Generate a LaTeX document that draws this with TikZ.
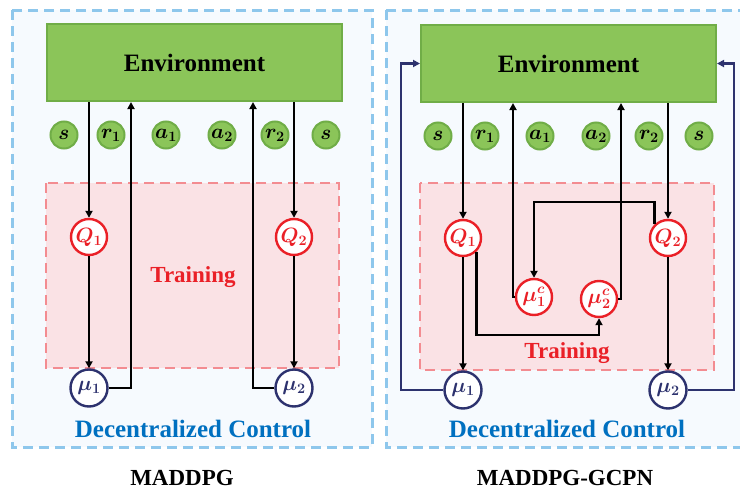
\documentclass[tikz,border=0pt]{standalone}
\usepackage{bm}
\usepackage{fontspec}
\setmainfont{Liberation Serif}
\usetikzlibrary{arrows.meta,calc}
\definecolor{envfill}{RGB}{139,197,89}
\definecolor{envdraw}{RGB}{112,173,71}
\definecolor{qred}{RGB}{234,32,39}
\definecolor{munavy}{RGB}{45,50,110}
\definecolor{trfill}{RGB}{250,226,229}
\definecolor{trdraw}{RGB}{243,140,145}
\definecolor{outfill}{RGB}{246,250,254}
\definecolor{outdraw}{RGB}{142,199,236}
\definecolor{dcblue}{RGB}{0,112,192}
\tikzset{
  outerbox/.style={draw=outdraw,fill=outfill,line width=3pt,dash pattern=on 10pt off 6pt},
  trainbox/.style={draw=trdraw,fill=trfill,line width=2.6pt,dash pattern=on 10pt off 6pt},
  envbox/.style={draw=envdraw,fill=envfill,line width=2pt,minimum width=295pt,minimum height=77pt,inner sep=0pt,font=\fontsize{25}{25}\selectfont\bfseries},
  small/.style={circle,draw=envdraw,fill=envfill,line width=2pt,minimum size=27pt,inner sep=0pt,font=\fontsize{20}{20}\selectfont},
  qnode/.style={circle,draw=qred,fill=white,line width=2.4pt,minimum size=36pt,inner sep=0pt,text=qred,font=\fontsize{20}{20}\selectfont},
  munode/.style={circle,draw=munavy,fill=white,line width=2.4pt,minimum size=37pt,inner sep=0pt,text=munavy,font=\fontsize{20}{20}\selectfont},
  arr/.style={draw=black,line width=2.4pt,-{Triangle[length=7pt,width=7pt]}},
  barr/.style={draw=munavy,line width=2.4pt,-{Triangle[length=7pt,width=7pt]}},
  trtext/.style={text=qred,font=\fontsize{23}{23}\selectfont\bfseries},
  dctext/.style={text=dcblue,font=\fontsize{25}{25}\selectfont\bfseries},
  title/.style={text=black,font=\fontsize{23}{23}\selectfont\bfseries},
}
\begin{document}
\begin{tikzpicture}[x=1pt,y=-1pt]
\useasboundingbox (0,0) rectangle (740,493);
% ---------- left panel ----------
\path[outerbox] (12,10) rectangle (372,447);
\path[trainbox] (46,183) rectangle (339,368);
\node[envbox] (env1) at (194.5,62.5) {Environment};
\node[small] (s1a) at (64,135) {$\bm{s}$};
\node[small] (r1a) at (111,135) {$\bm{r_1}$};
\node[small] (a1a) at (166,135) {$\bm{a_1}$};
\node[small] (a2a) at (222,135) {$\bm{a_2}$};
\node[small] (r2a) at (275,135) {$\bm{r_2}$};
\node[small] (s2a) at (326,135) {$\bm{s}$};
\node[qnode] (Q1L) at (89,237) {$\bm{Q_1}$};
\node[qnode] (Q2L) at (294,237) {$\bm{Q_2}$};
\node[munode] (mu1L) at (89,388) {$\bm{\mu_1}$};
\node[munode] (mu2L) at (294,388) {$\bm{\mu_2}$};
\node[trtext] (trL) at (193,277) {Training};
\node[dctext] (dcL) at (193,429) {Decentralized Control};
\node[title] (tL) at (182,478) {MADDPG};
\draw[arr] (env1.south -| Q1L) -- (Q1L.north);
\draw[arr] (env1.south -| Q2L) -- (Q2L.north);
\draw[arr] (Q1L.south) -- (mu1L.north);
\draw[arr] (Q2L.south) -- (mu2L.north);
\draw[arr] (mu1L.east) -| (env1.south -| 131,0);
\draw[arr] (mu2L.west) -| (env1.south -| 253,0);
% ---------- right panel ----------
\path[outerbox] (386,10) rectangle (746,447);
\path[trainbox] (420,183) rectangle (714,370);
\node[envbox] (env2) at (568.5,63.5) {Environment};
\node[small] (s1b) at (438,136) {$\bm{s}$};
\node[small] (r1b) at (485,136) {$\bm{r_1}$};
\node[small] (a1b) at (540,136) {$\bm{a_1}$};
\node[small] (a2b) at (596,136) {$\bm{a_2}$};
\node[small] (r2b) at (649,136) {$\bm{r_2}$};
\node[small] (s2b) at (699,136) {$\bm{s}$};
\node[qnode] (Q1R) at (463,238) {$\bm{Q_1}$};
\node[qnode] (Q2R) at (668,238) {$\bm{Q_2}$};
\node[qnode] (mu1c) at (534,297) {$\bm{\mu_1^c}$};
\node[qnode] (mu2c) at (599,299) {$\bm{\mu_2^c}$};
\node[munode] (mu1R) at (463,390) {$\bm{\mu_1}$};
\node[munode] (mu2R) at (668,390) {$\bm{\mu_2}$};
\node[trtext] (trR) at (567,353) {Training};
\node[dctext] (dcR) at (567,429) {Decentralized Control};
\node[title] (tR) at (565,478) {MADDPG-GCPN};
\draw[arr] (env2.south -| Q1R) -- (Q1R.north);
\draw[arr] (env2.south -| Q2R) -- (Q2R.north);
\draw[arr] (Q1R.south) -- (mu1R.north);
\draw[arr] (Q2R.south) -- (mu2R.north);
\draw[arr] (mu1c.west) -| (env2.south -| 513,0);
\draw[arr] (mu2c.east) -| (env2.south -| 621,0);
\draw[arr] (Q2R.north west) -- (Q2R.north west |- 0,202) -| (mu1c.north);
\draw[arr] (Q1R.south east) -- (Q1R.south east |- 0,335) -| (mu2c.south);
\draw[barr] (mu1R.west) -| ($(env2.west)+(-19,0)$) -- (env2.west);
\draw[barr] (mu2R.east) -| ($(env2.east)+(17,0)$) -- (env2.east);
\end{tikzpicture}
\end{document}
